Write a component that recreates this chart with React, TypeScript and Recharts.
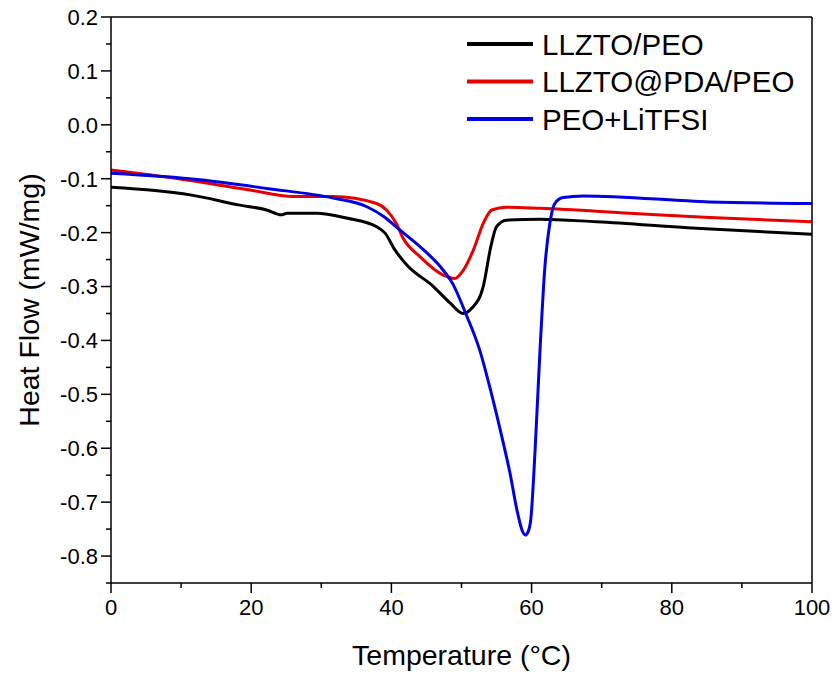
import React from "react";
import { LineChart, Line, XAxis, YAxis } from "recharts";

// temperature (°C) / heat flow (mW/mg)
const llztoPeoT = [0, 11.3, 18.4, 22.2, 24.3, 25.1, 29.3, 33.6, 37.9, 39.1, 40.5, 42.2, 46.0, 48.4, 50.2, 51.5, 53.1, 54.2, 55.0, 56.4, 61.2, 69.3, 83.5, 100];
const llztoPeoHf = [-0.116, -0.13, -0.149, -0.158, -0.167, -0.164, -0.164, -0.173, -0.189, -0.201, -0.232, -0.26, -0.3, -0.331, -0.35, -0.34, -0.3, -0.225, -0.189, -0.177, -0.175, -0.18, -0.192, -0.203];

const pdaT = [0, 12.7, 19.8, 26.0, 31.7, 37.9, 39.3, 40.7, 41.7, 44.1, 47.4, 49.0, 50.3, 51.7, 53.1, 54.3, 56.4, 61.2, 74.0, 85.4, 100];
const pdaHf = [-0.084, -0.106, -0.121, -0.133, -0.133, -0.146, -0.158, -0.183, -0.211, -0.245, -0.279, -0.285, -0.269, -0.232, -0.183, -0.158, -0.153, -0.155, -0.164, -0.172, -0.18];

const litfsiT = [0, 12.7, 22.2, 31.7, 36.5, 38.9, 41.2, 44.6, 46.9, 48.8, 50.6, 52.6, 54.1, 55.6, 56.9, 58.0, 58.7, 59.1, 59.5, 59.9, 60.5, 61.2, 61.9, 62.6, 63.3, 64.5, 67.4, 85.4, 100];
const litfsiHf = [-0.09, -0.102, -0.118, -0.136, -0.152, -0.17, -0.195, -0.232, -0.262, -0.296, -0.35, -0.418, -0.49, -0.57, -0.645, -0.72, -0.754, -0.761, -0.755, -0.73, -0.603, -0.418, -0.263, -0.183, -0.146, -0.135, -0.132, -0.143, -0.146];

// every 10 °C / 0.05 mW/mg gets a tick, only the labelled ones are long
const xTicks = [0, 10, 20, 30, 40, 50, 60, 70, 80, 90, 100];
const xLabelled = [0, 20, 40, 60, 80, 100];
const yTicks = [-0.85, -0.8, -0.75, -0.7, -0.65, -0.6, -0.55, -0.5, -0.45, -0.4, -0.35, -0.3, -0.25, -0.2, -0.15, -0.1, -0.05, 0, 0.05, 0.1, 0.15, 0.2];
const yLabelled = ["-0.8", "-0.7", "-0.6", "-0.5", "-0.4", "-0.3", "-0.2", "-0.1", "0.0", "0.1", "0.2"];

const series = [
  { name: "LLZTO/PEO", color: "#000000", t: llztoPeoT, hf: llztoPeoHf },
  { name: "LLZTO@PDA/PEO", color: "#e80000", t: pdaT, hf: pdaHf },
  { name: "PEO+LiTFSI", color: "#0000e0", t: litfsiT, hf: litfsiHf },
];

const FONT = "'Liberation Sans', Arial, sans-serif";
const axisStroke = { stroke: "#000", strokeWidth: 1.5 };
const TICK = 10;
const MINOR = 5;
const GAP = 4;

const XTick = (props: any) => {
  const { x, y, payload } = props;
  const axisY = y - TICK - GAP;
  const major = xLabelled.includes(payload.value);
  return (
    <g>
      <line x1={x} x2={x} y1={axisY} y2={axisY + (major ? TICK : MINOR)} stroke="#000" strokeWidth={1.5} />
      {major && (
        <text x={x} y={y} dy="0.8em" textAnchor="middle" fontSize={22} fontFamily={FONT} fill="#000">
          {payload.value}
        </text>
      )}
    </g>
  );
};

const YTick = (props: any) => {
  const { x, y, payload } = props;
  const axisX = x + TICK + GAP;
  const label = Number(payload.value).toFixed(1);
  const major = Math.abs(payload.value * 10 - Math.round(payload.value * 10)) < 1e-6 && yLabelled.includes(label);
  return (
    <g>
      <line x1={axisX} x2={axisX - (major ? TICK : MINOR)} y1={y} y2={y} stroke="#000" strokeWidth={1.5} />
      {major && (
        <text x={x + 1} y={y} dy="0.36em" textAnchor="end" fontSize={22} fontFamily={FONT} fill="#000">
          {label}
        </text>
      )}
    </g>
  );
};

const YTitle = (props: any) => {
  const { x, y, height } = props.viewBox;
  const cx = x + 18;
  const cy = y + height / 2;
  return (
    <text x={cx} y={cy} transform={`rotate(-90 ${cx} ${cy})`} textAnchor="middle" dominantBaseline="central" fontSize={28.5} fontFamily={FONT} fill="#000">
      Heat Flow (mW/mg)
    </text>
  );
};

const XTitle = (props: any) => {
  const { x, y, width } = props.viewBox;
  return (
    <text x={x + width / 2} y={y + 82} textAnchor="middle" fontSize={28.5} fontFamily={FONT} fill="#000">
      Temperature (°C)
    </text>
  );
};

const LegendBox = () => (
  <svg width={360} height={120} style={{ position: "absolute", left: 467, top: 25 }}>
    {series.map((s, i) => (
      <g key={s.name}>
        <line x1={0} x2={66} y1={19 + i * 37.5} y2={19 + i * 37.5} stroke={s.color} strokeWidth={4} />
        <text x={75} y={19 + i * 37.5} dominantBaseline="central" fontSize={29.5} fontFamily={FONT} fill="#000">
          {s.name}
        </text>
      </g>
    ))}
  </svg>
);

export default function App() {
  return (
    <div style={{ position: "absolute", left: 0, top: 0, width: 835, height: 675, background: "#fff" }}>
      <LineChart width={835} height={675} margin={{ top: 16, right: 22, bottom: 32, left: 11 }}>
        <XAxis
          type="number"
          dataKey="t"
          domain={[0, 100]}
          ticks={xTicks}
          interval={0}
          tickSize={TICK}
          tickMargin={GAP}
          height={60}
          tick={<XTick />}
          tickLine={false}
          axisLine={axisStroke}
          label={<XTitle />}
          allowDataOverflow
        />
        <XAxis xAxisId="top" orientation="top" type="number" dataKey="t" domain={[0, 100]} tick={false} tickLine={false} height={1} axisLine={axisStroke} allowDataOverflow />
        <YAxis
          type="number"
          dataKey="hf"
          domain={[-0.85, 0.2]}
          ticks={yTicks}
          interval={0}
          tickSize={TICK}
          tickMargin={GAP}
          width={100}
          tick={<YTick />}
          tickLine={false}
          axisLine={axisStroke}
          label={<YTitle />}
          allowDataOverflow
        />
        <YAxis yAxisId="right" orientation="right" type="number" dataKey="hf" domain={[-0.85, 0.2]} tick={false} tickLine={false} width={1} axisLine={axisStroke} allowDataOverflow />
        {series.map((s) => (
          <Line
            key={s.name}
            name={s.name}
            data={s.t.map((t, i) => ({ t, hf: s.hf[i] }))}
            dataKey="hf"
            type="monotone"
            stroke={s.color}
            strokeWidth={3}
            dot={false}
            isAnimationActive={false}
          />
        ))}
      </LineChart>
      <LegendBox />
    </div>
  );
}
